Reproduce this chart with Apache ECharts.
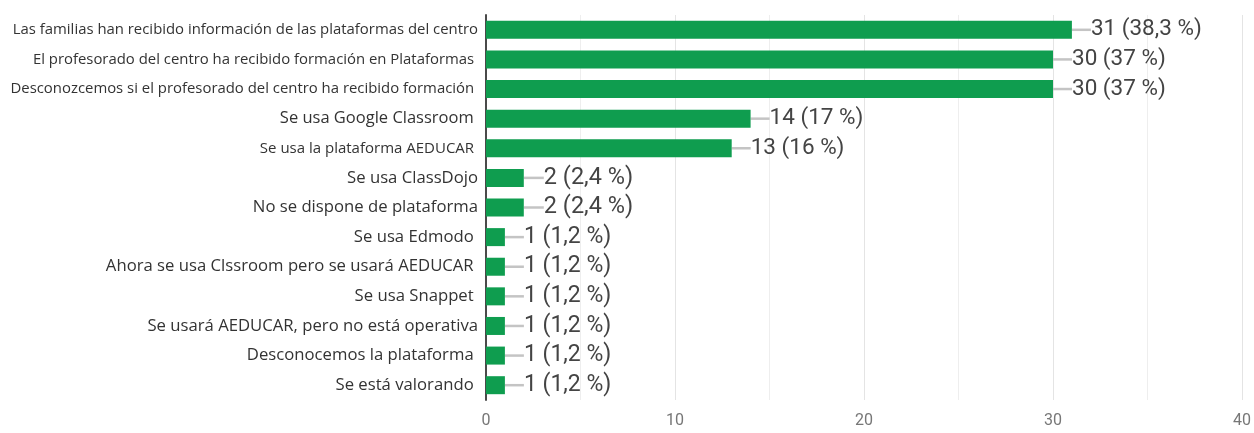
<!DOCTYPE html>
<html>
<head>
<meta charset="utf-8">
<script src="https://cdn.jsdelivr.net/npm/echarts@6/dist/echarts.min.js"></script>
<style>
  html, body { margin: 0; padding: 0; background: #fff; }
  #chart { width: 1254px; height: 433px; }
</style>
</head>
<body>
<div id="chart"></div>
<script>
// respuestas (orden de arriba a abajo)
const categories = [
  'Las familias han recibido información de las plataformas del centro',
  'El profesorado del centro ha recibido formación en Plataformas ',
  'Desconozcemos si el profesorado del centro ha recibido formación ',
  'Se usa Google Classroom ',
  'Se usa la plataforma AEDUCAR ',
  'Se usa ClassDojo',
  'No se dispone de plataforma',
  'Se usa Edmodo ',
  'Ahora se usa Clssroom pero se usará AEDUCAR ',
  'Se usa Snappet ',
  'Se usará AEDUCAR, pero no está operativa',
  'Desconocemos la plataforma ',
  'Se está valorando '
];
const counts = [31, 30, 30, 14, 13, 2, 2, 1, 1, 1, 1, 1, 1];
const percents = ['38,3', '37', '37', '17', '16', '2,4', '2,4', '1,2', '1,2', '1,2', '1,2', '1,2', '1,2'];
const xTicks = [0, 10, 20, 30, 40];

// en la imagen original las etiquetas no tienen todas el mismo tamaño
const catSizes = [14.9, 14.9, 14.9, 16.5, 15, 16.7, 16.7, 16.7, 16.7, 16.7, 16.7, 16.7, 16.7];
const valSizes = [22.5, 22.5, 22.5, 22.5, 22.5, 23.5, 23.5, 23, 23, 23, 23, 23, 23];

const chart = echarts.init(document.getElementById('chart'));

const option = {
  animation: false,
  grid: { left: 486, right: 12, top: 15, bottom: 33, containLabel: false },
  xAxis: {
    type: 'value',
    min: xTicks[0],
    max: xTicks[xTicks.length - 1],
    interval: 10,
    axisLine: { show: false },
    axisTick: { show: false },
    axisLabel: { color: '#777', fontFamily: 'Roboto', fontSize: 16, margin: 13 },
    splitLine: { show: true, lineStyle: { color: '#e4e4e4', width: 1 } },
    minorTick: { show: false, splitNumber: 2 },
    minorSplitLine: { show: true, lineStyle: { color: '#eeeeee', width: 1 } }
  },
  yAxis: {
    type: 'category',
    inverse: true,
    data: categories.map((c, i) => ({ value: c, textStyle: { fontSize: catSizes[i] } })),
    axisLine: { show: true, lineStyle: { color: '#4a4a4a', width: 2 } },
    axisTick: { show: false },
    axisLabel: { color: '#333', fontFamily: 'Open Sans', fontSize: 14.9, margin: 8 }
  },
  series: [{
    type: 'bar',
    data: counts.map((v, i) => ({ value: v, label: { fontSize: valSizes[i] } })),
    barWidth: 18,
    itemStyle: { color: '#0f9d4f' },
    label: {
      show: true,
      position: 'right',
      distance: 0,
      color: '#444',
      fontFamily: 'Roboto',
      fontSize: 22,
      formatter: p => counts[p.dataIndex] + ' (' + percents[p.dataIndex] + ' %)'
    },
    // separación de la etiqueta con su pequeña línea gris
    labelLayout: p => ({ dx: counts[p.dataIndex] === 2 ? 20 : 19 }),
    labelLine: { show: true, lineStyle: { color: '#c4c4c4', width: 2.5 } }
  }]
};

chart.setOption(option);
</script>
</body>
</html>
